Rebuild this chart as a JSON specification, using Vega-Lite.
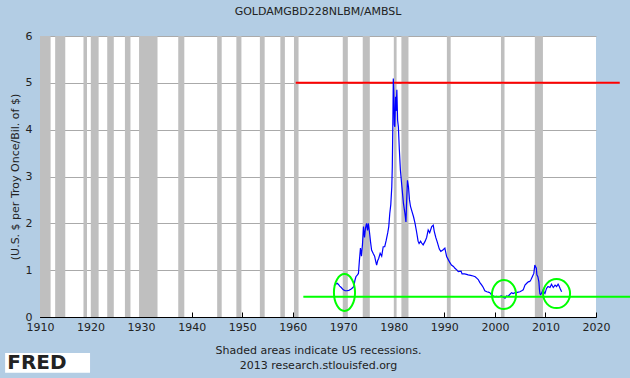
{
  "$schema": "https://vega.github.io/schema/vega-lite/v6.json",
  "width": 556,
  "height": 281,
  "autosize": {"type": "none"},
  "padding": {"left": 40, "top": 36, "right": 34, "bottom": 61},
  "background": "#b3cde4",
  "config": {
    "font": "DejaVu Sans",
    "view": {"stroke": null, "fill": "white"},
    "axis": {"labelFont": "DejaVu Sans", "titleFont": "DejaVu Sans", "labelFontSize": 11, "titleFontSize": 11, "titleFontWeight": "normal", "labelColor": "#222", "titleColor": "#222", "domainColor": "#000", "tickColor": "#000"}
  },
  "title": {"text": "GOLDAMGBD228NLBM/AMBSL", "fontSize": 11, "fontWeight": "normal", "color": "#222", "font": "DejaVu Sans", "anchor": "middle", "offset": 13},
  "datasets": {
    "series": [
      {"year": 1968.2, "v": 0.67}, {"year": 1968.5, "v": 0.70}, {"year": 1968.8, "v": 0.72}, {"year": 1969.0, "v": 0.70},
      {"year": 1969.3, "v": 0.66}, {"year": 1969.6, "v": 0.63}, {"year": 1970.0, "v": 0.58}, {"year": 1970.4, "v": 0.56},
      {"year": 1970.7, "v": 0.56}, {"year": 1971.1, "v": 0.57}, {"year": 1971.5, "v": 0.59}, {"year": 1971.8, "v": 0.62},
      {"year": 1972.1, "v": 0.65}, {"year": 1972.3, "v": 0.78}, {"year": 1972.5, "v": 0.86}, {"year": 1972.8, "v": 0.90},
      {"year": 1973.0, "v": 0.93}, {"year": 1973.2, "v": 1.22}, {"year": 1973.4, "v": 1.47}, {"year": 1973.6, "v": 1.30},
      {"year": 1973.8, "v": 1.55}, {"year": 1974.0, "v": 1.93}, {"year": 1974.2, "v": 1.70}, {"year": 1974.4, "v": 1.90},
      {"year": 1974.6, "v": 2.00}, {"year": 1974.8, "v": 1.85}, {"year": 1974.95, "v": 2.00}, {"year": 1975.2, "v": 1.80},
      {"year": 1975.4, "v": 1.60}, {"year": 1975.6, "v": 1.43}, {"year": 1975.9, "v": 1.36}, {"year": 1976.2, "v": 1.30},
      {"year": 1976.4, "v": 1.20}, {"year": 1976.6, "v": 1.11}, {"year": 1976.8, "v": 1.20}, {"year": 1977.0, "v": 1.25},
      {"year": 1977.3, "v": 1.36}, {"year": 1977.6, "v": 1.30}, {"year": 1977.9, "v": 1.50}, {"year": 1978.2, "v": 1.50},
      {"year": 1978.5, "v": 1.64}, {"year": 1978.8, "v": 1.80}, {"year": 1979.0, "v": 1.93}, {"year": 1979.2, "v": 2.21},
      {"year": 1979.4, "v": 2.40}, {"year": 1979.6, "v": 2.78}, {"year": 1979.7, "v": 3.21}, {"year": 1979.8, "v": 4.06},
      {"year": 1979.9, "v": 5.09}, {"year": 1980.0, "v": 4.78}, {"year": 1980.1, "v": 4.10}, {"year": 1980.2, "v": 4.06},
      {"year": 1980.35, "v": 4.70}, {"year": 1980.45, "v": 4.40}, {"year": 1980.6, "v": 4.85}, {"year": 1980.75, "v": 4.20},
      {"year": 1980.9, "v": 4.06}, {"year": 1981.1, "v": 3.56}, {"year": 1981.3, "v": 3.14}, {"year": 1981.6, "v": 2.78},
      {"year": 1981.9, "v": 2.43}, {"year": 1982.2, "v": 2.21}, {"year": 1982.4, "v": 2.03}, {"year": 1982.5, "v": 2.36},
      {"year": 1982.7, "v": 2.92}, {"year": 1982.9, "v": 2.78}, {"year": 1983.1, "v": 2.50}, {"year": 1983.3, "v": 2.36},
      {"year": 1983.6, "v": 2.25}, {"year": 1983.9, "v": 2.14}, {"year": 1984.2, "v": 2.00}, {"year": 1984.5, "v": 1.82},
      {"year": 1984.8, "v": 1.62}, {"year": 1985.0, "v": 1.57}, {"year": 1985.3, "v": 1.62}, {"year": 1985.5, "v": 1.58},
      {"year": 1985.8, "v": 1.54}, {"year": 1986.2, "v": 1.62}, {"year": 1986.5, "v": 1.70}, {"year": 1986.8, "v": 1.86},
      {"year": 1987.1, "v": 1.80}, {"year": 1987.5, "v": 1.93}, {"year": 1987.8, "v": 1.96}, {"year": 1988.0, "v": 1.83},
      {"year": 1988.3, "v": 1.70}, {"year": 1988.6, "v": 1.60}, {"year": 1989.0, "v": 1.45}, {"year": 1989.3, "v": 1.40},
      {"year": 1989.7, "v": 1.43}, {"year": 1990.1, "v": 1.47}, {"year": 1990.45, "v": 1.29}, {"year": 1990.8, "v": 1.22},
      {"year": 1991.1, "v": 1.16}, {"year": 1991.4, "v": 1.11}, {"year": 1991.8, "v": 1.08}, {"year": 1992.1, "v": 1.04},
      {"year": 1992.5, "v": 1.00}, {"year": 1992.75, "v": 0.97}, {"year": 1993.3, "v": 0.98}, {"year": 1993.5, "v": 0.92},
      {"year": 1994.0, "v": 0.92}, {"year": 1994.4, "v": 0.91}, {"year": 1994.7, "v": 0.90}, {"year": 1995.2, "v": 0.89},
      {"year": 1995.7, "v": 0.875}, {"year": 1996.1, "v": 0.86}, {"year": 1996.4, "v": 0.83}, {"year": 1996.7, "v": 0.80},
      {"year": 1997.0, "v": 0.74}, {"year": 1997.4, "v": 0.68}, {"year": 1997.7, "v": 0.63}, {"year": 1998.0, "v": 0.56},
      {"year": 1998.4, "v": 0.54}, {"year": 1998.7, "v": 0.53}, {"year": 1999.0, "v": 0.52}, {"year": 1999.35, "v": 0.47},
      {"year": 1999.7, "v": 0.45}, {"year": 2000.0, "v": 0.43}, {"year": 2000.3, "v": 0.44}, {"year": 2000.65, "v": 0.43},
      {"year": 2001.0, "v": 0.44}, {"year": 2001.3, "v": 0.45}, {"year": 2001.7, "v": 0.42}, {"year": 2002.0, "v": 0.40},
      {"year": 2002.3, "v": 0.45}, {"year": 2002.6, "v": 0.44}, {"year": 2002.85, "v": 0.47}, {"year": 2003.1, "v": 0.50},
      {"year": 2003.3, "v": 0.52}, {"year": 2003.6, "v": 0.50}, {"year": 2004.0, "v": 0.52}, {"year": 2004.3, "v": 0.52},
      {"year": 2004.6, "v": 0.53}, {"year": 2004.95, "v": 0.54}, {"year": 2005.3, "v": 0.56}, {"year": 2005.6, "v": 0.58},
      {"year": 2005.95, "v": 0.68}, {"year": 2006.3, "v": 0.72}, {"year": 2006.6, "v": 0.75}, {"year": 2006.9, "v": 0.76},
      {"year": 2007.1, "v": 0.79}, {"year": 2007.4, "v": 0.86}, {"year": 2007.7, "v": 0.93}, {"year": 2007.9, "v": 1.11},
      {"year": 2008.05, "v": 1.07}, {"year": 2008.2, "v": 1.04}, {"year": 2008.3, "v": 0.90}, {"year": 2008.5, "v": 0.86},
      {"year": 2008.7, "v": 0.75}, {"year": 2008.8, "v": 0.60}, {"year": 2008.9, "v": 0.50}, {"year": 2009.0, "v": 0.48},
      {"year": 2009.2, "v": 0.50}, {"year": 2009.4, "v": 0.55}, {"year": 2009.55, "v": 0.58}, {"year": 2009.75, "v": 0.52},
      {"year": 2009.9, "v": 0.50}, {"year": 2010.2, "v": 0.61}, {"year": 2010.5, "v": 0.65}, {"year": 2010.9, "v": 0.63},
      {"year": 2011.2, "v": 0.70}, {"year": 2011.55, "v": 0.63}, {"year": 2011.9, "v": 0.68}, {"year": 2012.2, "v": 0.65},
      {"year": 2012.5, "v": 0.70}, {"year": 2012.7, "v": 0.66}, {"year": 2012.9, "v": 0.61}, {"year": 2013.2, "v": 0.54}
    ],
    "recessions": [
      {"start": 1910.0, "end": 1912.1}, {"start": 1913.0, "end": 1915.0}, {"start": 1918.6, "end": 1919.3},
      {"start": 1920.05, "end": 1921.6}, {"start": 1923.3, "end": 1924.6}, {"start": 1926.8, "end": 1927.9},
      {"start": 1929.6, "end": 1933.25}, {"start": 1937.35, "end": 1938.55}, {"start": 1945.05, "end": 1945.95},
      {"start": 1948.85, "end": 1949.85}, {"start": 1953.5, "end": 1954.45}, {"start": 1957.55, "end": 1958.45},
      {"start": 1960.25, "end": 1961.15}, {"start": 1969.9, "end": 1970.9}, {"start": 1973.85, "end": 1975.25},
      {"start": 1980.0, "end": 1980.55}, {"start": 1981.5, "end": 1982.9}, {"start": 1990.5, "end": 1991.25},
      {"start": 2001.2, "end": 2001.9}, {"start": 2007.9, "end": 2009.5}
    ]
  },
  "layer": [
    {
      "data": {"name": "recessions"},
      "mark": {"type": "rect", "color": "#bfbfbf"},
      "encoding": {
        "x": {"field": "start", "type": "quantitative", "scale": {"domain": [1910, 2020], "nice": false, "zero": false},
              "axis": {"values": [1910, 1920, 1930, 1940, 1950, 1960, 1970, 1980, 1990, 2000, 2010, 2020], "format": "d", "grid": false, "tickSize": -5, "labelPadding": 9, "labelFlush": false,
                       "title": ["Shaded areas indicate US recessions.", "2013 research.stlouisfed.org"], "titlePadding": 12, "titleLineHeight": 15}},
        "x2": {"field": "end"},
        "y": {"datum": 0, "type": "quantitative", "scale": {"domain": [0, 6], "nice": false},
              "axis": {"values": [0, 1, 2, 3, 4, 5, 6], "grid": true, "gridColor": "#aaaaaa", "gridOpacity": 1, "tickSize": -5, "labelPadding": 13, "labelFlush": false,
                       "title": "(U.S. $ per Troy Once/Bil. of $)", "titlePadding": 5}},
        "y2": {"datum": 6}
      }
    },
    {
      "data": {"values": [{"year": 1960.6, "v": 5}, {"year": 2024.7, "v": 5}]},
      "mark": {"type": "line", "color": "#ff0000", "strokeWidth": 2},
      "encoding": {"x": {"field": "year", "type": "quantitative"}, "y": {"field": "v", "type": "quantitative"}}
    },
    {
      "data": {"name": "series"},
      "mark": {"type": "line", "color": "#0000ff", "strokeWidth": 1.2},
      "encoding": {"x": {"field": "year", "type": "quantitative"}, "y": {"field": "v", "type": "quantitative"}}
    },
    {
      "data": {"values": [{"year": 1962.1, "v": 0.433}, {"year": 2026.8, "v": 0.433}]},
      "mark": {"type": "line", "color": "#00ff00", "strokeWidth": 2},
      "encoding": {"x": {"field": "year", "type": "quantitative"}, "y": {"field": "v", "type": "quantitative"}}
    },
    {
      "data": {"values": [{"year": 1970.24, "v": 0.523}]},
      "mark": {"type": "point", "filled": false, "stroke": "#00ff00", "strokeWidth": 2, "opacity": 1, "size": 1369,
               "shape": "M -0.57 0 A 0.57 1 0 1 0 0.57 0 A 0.57 1 0 1 0 -0.57 0 Z"},
      "encoding": {"x": {"field": "year", "type": "quantitative"}, "y": {"field": "v", "type": "quantitative"}}
    },
    {
      "data": {"values": [{"year": 2001.8, "v": 0.48}]},
      "mark": {"type": "point", "filled": false, "stroke": "#00ff00", "strokeWidth": 2, "opacity": 1, "size": 841,
               "shape": "M -0.83 0 A 0.83 1 0 1 0 0.83 0 A 0.83 1 0 1 0 -0.83 0 Z"},
      "encoding": {"x": {"field": "year", "type": "quantitative"}, "y": {"field": "v", "type": "quantitative"}}
    },
    {
      "data": {"values": [{"year": 2012.2, "v": 0.50}]},
      "mark": {"type": "point", "filled": false, "stroke": "#00ff00", "strokeWidth": 2, "opacity": 1, "size": 841,
               "shape": "M -0.93 0 A 0.93 1 0 1 0 0.93 0 A 0.93 1 0 1 0 -0.93 0 Z"},
      "encoding": {"x": {"field": "year", "type": "quantitative"}, "y": {"field": "v", "type": "quantitative"}}
    },
    {
      "data": {"values": [{"x1": 1903.1, "x2": 1919.9, "y1": -0.77, "y2": -1.19}]},
      "mark": {"type": "rect", "color": "white"},
      "encoding": {"x": {"field": "x1", "type": "quantitative"}, "x2": {"field": "x2"}, "y": {"field": "y1", "type": "quantitative"}, "y2": {"field": "y2"}}
    },
    {
      "data": {"values": [{"label": "FRED", "year": 1909.4, "v": -0.98}]},
      "mark": {"type": "text", "font": "DejaVu Sans", "fontWeight": "bold", "fontSize": 20, "color": "#222", "align": "center", "baseline": "middle"},
      "encoding": {"x": {"field": "year", "type": "quantitative"}, "y": {"field": "v", "type": "quantitative"}, "text": {"field": "label"}}
    }
  ]
}
